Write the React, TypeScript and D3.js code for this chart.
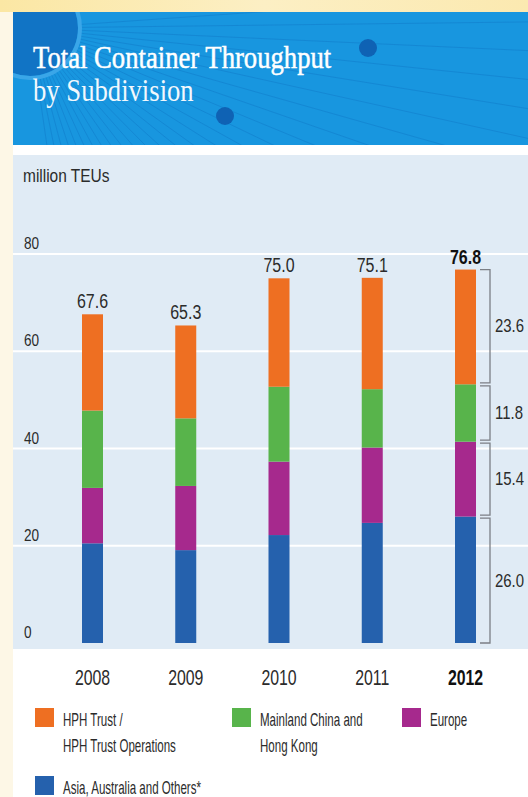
import React from "react";
import * as d3 from "d3";

const years = ["2008", "2009", "2010", "2011", "2012"];
const hphTrust = [19.8, 19.1, 22.3, 22.9, 23.6];
const mainland = [15.9, 13.9, 15.4, 12.0, 11.8];
const europe = [11.4, 13.2, 15.1, 15.5, 15.4];
const asia = [20.5, 19.1, 22.2, 24.7, 26.0];
const totals = [67.6, 65.3, 75.0, 75.1, 76.8];
const yTicks = [0, 20, 40, 60, 80];

const seriesKeys = ["asia", "europe", "mainland", "hph"];
const seriesColors: Record<string, string> = {
  hph: "#ee6f22",
  mainland: "#58b44b",
  europe: "#a6298d",
  asia: "#2561ad",
};
const legendItems = [
  { key: "hph", lines: ["HPH Trust /", "HPH Trust Operations"] },
  { key: "mainland", lines: ["Mainland China and", "Hong Kong"] },
  { key: "europe", lines: ["Europe"] },
  { key: "asia", lines: ["Asia, Australia and Others*"] },
];

const W = 528;
const H = 797;
const SANS = "'Liberation Sans', Arial, sans-serif";
const SERIF = "'Liberation Serif', 'DejaVu Serif', serif";
const TXT = "#2b2b2b";

function T(props: {
  x: number;
  y: number;
  sx?: number;
  size: number;
  anchor?: string;
  weight?: string | number;
  fill?: string;
  family?: string;
  stroke?: string;
  strokeWidth?: number;
  children: React.ReactNode;
}) {
  const { x, y, sx = 1, size, anchor = "start", weight = "normal", fill = TXT, family = SANS, stroke, strokeWidth } = props;
  return (
    <text
      transform={`translate(${x},${y}) scale(${sx},1)`}
      fontSize={size}
      fontFamily={family}
      textAnchor={anchor}
      fontWeight={weight}
      fill={fill}
      stroke={stroke}
      strokeWidth={strokeWidth}
    >
      {props.children}
    </text>
  );
}

export default function App() {
  const table = years.map((yr, i) => ({
    year: yr,
    hph: hphTrust[i],
    mainland: mainland[i],
    europe: europe[i],
    asia: asia[i],
  }));
  const stacked = d3.stack<any>().keys(seriesKeys)(table);

  const x = d3.scalePoint<string>().domain(years).range([92.5, 465.5]);
  const y = d3.scaleLinear().domain([0, 80]).range([643, 254]);
  const barW = 21;

  const lastIdx = years.length - 1;
  const lastX = x(years[lastIdx])!;
  const bx0 = lastX + barW / 2 + 4;
  const bx1 = bx0 + 10;

  const rayOrigin = [30, 28];
  const rayAngles = d3.range(-4, 84, 3.3);

  return (
    <svg
      width={W}
      height={H}
      style={{ position: "absolute", left: 0, top: 0, display: "block" }}
    >
      <defs>
        <linearGradient id="topglow" x1="0" y1="0" x2="1" y2="0">
          <stop offset="0" stopColor="#fbe7a4" />
          <stop offset="0.5" stopColor="#fcefc4" />
          <stop offset="1" stopColor="#fbe9b0" />
        </linearGradient>
        <clipPath id="hdr">
          <rect x={13} y={12} width={W - 13} height={133} />
        </clipPath>
      </defs>
      <rect x={0} y={0} width={W} height={H} fill="#fffdf8" />
      <rect x={0} y={0} width={W} height={12} fill="url(#topglow)" />
      <rect x={0} y={12} width={13} height={H} fill="#fdf7e6" />
      <rect x={13} y={145} width={W - 13} height={H - 145} fill="#ffffff" />

      {/* header */}
      <g clipPath="url(#hdr)">
        <rect x={13} y={12} width={W - 13} height={133} fill="#1896df" />
        <circle cx={rayOrigin[0]} cy={rayOrigin[1]} r={48} fill="#1170c2" opacity={0.9} />
        <circle cx={rayOrigin[0]} cy={rayOrigin[1]} r={50} fill="none" stroke="#3aa6e8" strokeWidth={4} />
        {rayAngles.map((a, i) => {
          const rad = (a * Math.PI) / 180;
          return (
            <line
              key={i}
              x1={rayOrigin[0] + Math.cos(rad) * 52}
              y1={rayOrigin[1] + Math.sin(rad) * 52}
              x2={rayOrigin[0] + Math.cos(rad) * 700}
              y2={rayOrigin[1] + Math.sin(rad) * 700}
              stroke="#0e74c4"
              strokeOpacity={0.4}
              strokeWidth={1}
            />
          );
        })}
        <circle cx={368} cy={48} r={9} fill="#0f62b4" />
        <circle cx={225} cy={116} r={9} fill="#0f62b4" />
      </g>
      <T x={33} y={68} size={31} sx={0.86} family={SERIF} fill="#ffffff" stroke="#ffffff" strokeWidth={0.5}>
        Total Container Throughput
      </T>
      <T x={33} y={101} size={31} sx={0.86} family={SERIF} fill="#f2f8fd">
        by Subdivision
      </T>

      {/* chart panel */}
      <rect x={13} y={155} width={W - 13} height={494} fill="#e0ebf5" />
      <T x={23} y={182} size={18} sx={0.86}>
        million TEUs
      </T>
      {yTicks.map((t) => (
        <g key={t}>
          {t > 0 && (
            <line x1={13} x2={W} y1={y(t)} y2={y(t)} stroke="#ffffff" strokeWidth={2} />
          )}
          <T x={24} y={y(t) - 5} size={17} sx={0.8}>
            {String(t)}
          </T>
        </g>
      ))}

      {/* bars */}
      {stacked.map((s) => (
        <g key={s.key} fill={seriesColors[s.key]}>
          {s.map((d, i) => (
            <rect
              key={i}
              x={x(years[i])! - barW / 2}
              width={barW}
              y={y(d[1])}
              height={y(d[0]) - y(d[1])}
            />
          ))}
        </g>
      ))}

      {/* totals */}
      {totals.map((v, i) => (
        <T
          key={i}
          x={x(years[i])!}
          y={y(v) - 6}
          size={19.5}
          sx={0.82}
          anchor="middle"
          weight={i === lastIdx ? "bold" : "normal"}
          fill={i === lastIdx ? "#111" : TXT}
        >
          {v.toFixed(1)}
        </T>
      ))}

      {/* bracket */}
      {stacked.map((s, k) => {
        const d = s[lastIdx];
        const top = y(d[1]) + (k === stacked.length - 1 ? 0 : 1.5);
        const bot = y(d[0]) - (k === 0 ? 0 : 1.5);
        const val = d[1] - d[0];
        return (
          <g key={s.key}>
            <path
              d={`M${bx0},${top}H${bx1}V${bot}H${bx0}`}
              fill="none"
              stroke="#7b7f85"
              strokeWidth={1.3}
            />
            <T x={bx1 + 5} y={(top + bot) / 2 + 6} size={18} sx={0.83}>
              {val.toFixed(1)}
            </T>
          </g>
        );
      })}

      {/* years */}
      {years.map((yr, i) => (
        <T
          key={yr}
          x={x(yr)!}
          y={685}
          size={22}
          sx={0.72}
          anchor="middle"
          weight={i === lastIdx ? "bold" : "normal"}
          fill={i === lastIdx ? "#111" : TXT}
        >
          {yr}
        </T>
      ))}

      {/* legend */}
      {legendItems.map((it, i) => {
        const pos = [
          [35, 708],
          [232, 708],
          [402, 708],
          [35, 776],
        ][i];
        return (
          <g key={it.key}>
            <rect x={pos[0]} y={pos[1]} width={19} height={19} fill={seriesColors[it.key]} />
            {it.lines.map((ln, j) => (
              <T key={j} x={pos[0] + 28} y={pos[1] + 18 + j * 25.5} size={17.5} sx={0.66}>
                {ln}
              </T>
            ))}
          </g>
        );
      })}
    </svg>
  );
}
